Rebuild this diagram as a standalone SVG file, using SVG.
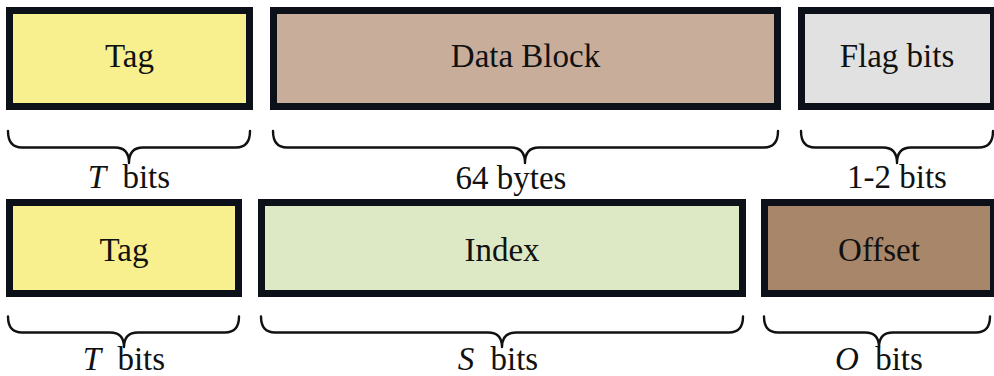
<svg xmlns="http://www.w3.org/2000/svg" width="994" height="376" viewBox="0 0 994 376">
  <style>
    .box { stroke: #0c1018; stroke-width: 7; }
    .lbl { font-family: "Liberation Serif", "DejaVu Serif", serif; font-size: 33px; fill: #111; text-anchor: middle; }
    .var { font-style: italic; }
    .brace { fill: none; stroke: #111; stroke-width: 2.4; stroke-linecap: round; stroke-linejoin: round; }
  </style>
  <rect width="994" height="376" fill="#ffffff"/>

  <!-- cache line: tag / data / flags -->
  <g id="line-tag">
    <rect class="box" x="9.5" y="10.5" width="240" height="96" fill="#f8f08f"/>
    <text class="lbl" x="129.5" y="67">Tag</text>
  </g>
  <g id="line-data">
    <rect class="box" x="273.5" y="10.5" width="504" height="96" fill="#c8ad9b"/>
    <text class="lbl" x="525.5" y="67">Data Block</text>
  </g>
  <g id="line-flags">
    <rect class="box" x="801.5" y="10.5" width="192" height="96" fill="#e1e1e1"/>
    <text class="lbl" x="897" y="67">Flag bits</text>
  </g>

  <!-- address: tag / index / offset -->
  <g id="addr-tag">
    <rect class="box" x="9.5" y="202.5" width="229" height="91" fill="#f8f08f"/>
    <text class="lbl" x="124" y="261">Tag</text>
  </g>
  <g id="addr-index">
    <rect class="box" x="261.5" y="202.5" width="481" height="91" fill="#dde8c5"/>
    <text class="lbl" x="502" y="261">Index</text>
  </g>
  <g id="addr-offset">
    <rect class="box" x="764.5" y="202.5" width="229" height="91" fill="#a8866a"/>
    <text class="lbl" x="879" y="261">Offset</text>
  </g>

  <!-- width braces -->
  <g id="braces">
    <path class="brace" d="M8,131 Q8,147.5 22,147.5 H115 Q129,147.5 129,163 Q129,147.5 143,147.5 H236 Q250,147.5 250,131"/>
    <path class="brace" d="M273,131 Q273,147.5 287,147.5 H511 Q525,147.5 525,163 Q525,147.5 539,147.5 H764 Q778,147.5 778,131"/>
    <path class="brace" d="M801,131 Q801,147.5 815,147.5 H883 Q897,147.5 897,163 Q897,147.5 911,147.5 H979 Q993,147.5 993,131"/>
    <path class="brace" d="M8,316.5 Q8,332.5 22,332.5 H110 Q124,332.5 124,347 Q124,332.5 138,332.5 H225 Q239,332.5 239,316.5"/>
    <path class="brace" d="M261,316.5 Q261,332.5 275,332.5 H488 Q502,332.5 502,347 Q502,332.5 516,332.5 H729 Q743,332.5 743,316.5"/>
    <path class="brace" d="M764,316.5 Q764,332.5 778,332.5 H865 Q879,332.5 879,347 Q879,332.5 893,332.5 H976 Q990,332.5 990,316.5"/>
  </g>

  <!-- width labels -->
  <g id="widths">
    <text class="lbl" x="129" y="188"><tspan class="var">T</tspan><tspan dx="8"> bits</tspan></text>
    <text class="lbl" x="511" y="189">64 bytes</text>
    <text class="lbl" x="897" y="188">1-2 bits</text>
    <text class="lbl" x="124" y="370"><tspan class="var">T</tspan><tspan dx="8"> bits</tspan></text>
    <text class="lbl" x="498" y="370"><tspan class="var">S</tspan><tspan dx="8"> bits</tspan></text>
    <text class="lbl" x="879" y="370"><tspan class="var">O</tspan><tspan dx="8"> bits</tspan></text>
  </g>
</svg>
